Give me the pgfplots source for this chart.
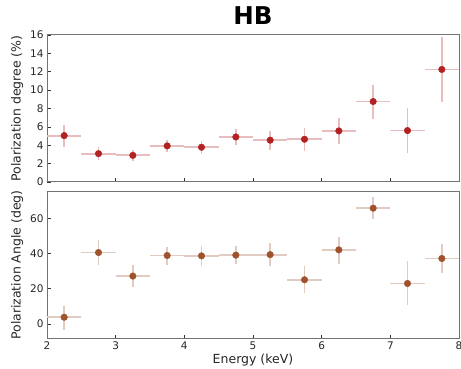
\documentclass[border=0pt]{standalone}
\usepackage{pgfplots}
\pgfplotsset{compat=1.18}
\usepackage{pgfplotstable}
\usepackage{fontspec}
\setmainfont{DejaVu Sans}
\definecolor{pdcol}{HTML}{B22222}
\definecolor{pacol}{HTML}{A0522D}
\pgfplotstableread{
x y ex ep em
2.25 5.05 0.25 1.15 1.25
2.75 3.09 0.25 0.71 0.73
3.25 2.90 0.25 0.60 0.65
3.75 3.93 0.25 0.67 0.63
4.25 3.78 0.25 0.72 0.68
4.75 4.90 0.25 0.90 0.90
5.25 4.55 0.25 0.95 1.10
5.75 4.65 0.25 1.25 1.25
6.25 5.56 0.25 1.44 1.46
6.75 8.76 0.25 1.84 1.86
7.25 5.60 0.25 2.40 2.40
7.75 12.25 0.25 3.55 3.55
}\pdtab
\pgfplotstableread{
x y ex ep em
2.25 3.8 0.25 6.6 7.0
2.75 40.6 0.25 7.1 7.2
3.25 27.2 0.25 6.4 6.4
3.75 38.9 0.25 5.1 5.3
4.25 38.7 0.25 5.6 5.9
4.75 39.1 0.25 5.2 5.3
5.25 39.4 0.25 6.6 6.4
5.75 25.1 0.25 7.9 7.7
6.25 42.1 0.25 7.3 7.8
6.75 65.8 0.25 6.2 6.0
7.25 23.0 0.25 12.5 12.1
7.75 37.2 0.25 8.5 8.5
}\patab
\begin{document}
\begin{tikzpicture}
\pgfplotsset{
  every axis/.style={
    scale only axis, width=412pt, height=147pt,
    xmin=2, xmax=8,
    tick align=inside, tick pos=left,
    axis line style={draw=black!55, line width=1pt},
    major tick style={black!80, line width=0.7pt},
    major tick length=3.5pt,
    tick label style={font=\fontsize{10.5}{12}\selectfont, text=black!85},
    label style={font=\fontsize{12.5}{14}\selectfont, text=black!85},
    /pgf/number format/assume math mode=true,
    clip=false,
  }
}
\begin{axis}[
  name=top,
  ymin=0, ymax=16, ytick={0,2,...,16},
  xtick={3,4,5,6,7}, xticklabels={},
  ylabel={Polarization degree (\%)},
]
\addplot[only marks, mark=*, mark size=3.3pt, color=pdcol,
  error bars/.cd, x dir=both, x explicit, y dir=both, y explicit,
  error mark=none,
  error bar style={color=pdcol!30, line width=1.8pt}]
  table[x=x, y=y, x error=ex, y error plus=ep, y error minus=em]{\pdtab};
\end{axis}
\begin{axis}[
  name=bot,
  at={(top.south west)}, anchor=north west, yshift=-10pt,
  height=146pt,
  ymin=-8, ymax=75, ytick={0,20,40,60},
  xtick={2,3,4,5,6,7,8},
  xlabel={Energy (keV)},
  ylabel={Polarization Angle (deg)},
  xlabel style={yshift=2pt},
]
\addplot[only marks, mark=*, mark size=3.3pt, color=pacol,
  error bars/.cd, x dir=both, x explicit, y dir=both, y explicit,
  error mark=none,
  error bar style={color=pacol!30, line width=1.8pt}]
  table[x=x, y=y, x error=ex, y error plus=ep, y error minus=em]{\patab};
\end{axis}
\node[anchor=base, font=\fontsize{24.5}{26}\selectfont\bfseries] at ([yshift=10pt]top.north) {HB};
\pgfresetboundingbox
\useasboundingbox ([xshift=-47pt,yshift=35pt]top.north west) rectangle ([xshift=2pt,yshift=-30pt]bot.south east);
\end{tikzpicture}
\end{document}
